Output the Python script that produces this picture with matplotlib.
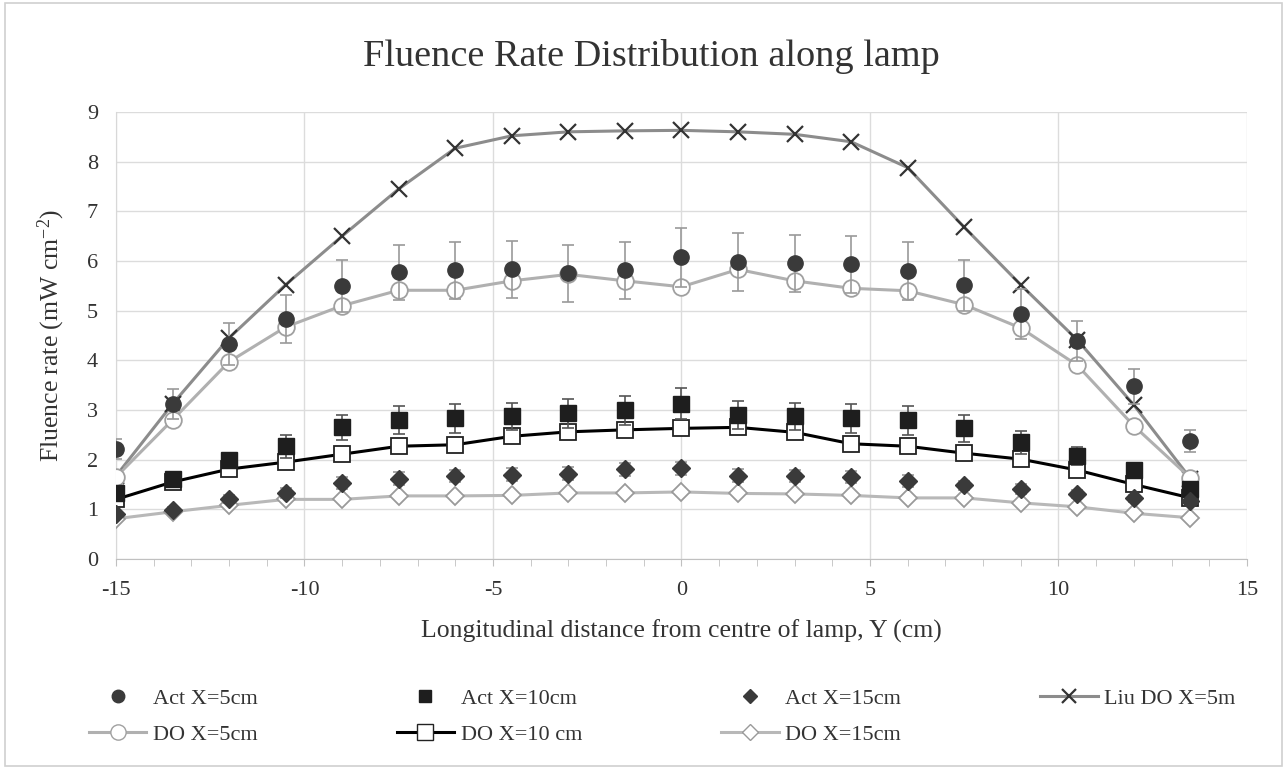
import matplotlib.pyplot as plt
from matplotlib.lines import Line2D
from matplotlib.patches import Rectangle
from matplotlib.ticker import MultipleLocator

plt.rcParams['font.family'] = ['Liberation Serif', 'DejaVu Serif']
plt.rcParams['axes.unicode_minus'] = False
plt.rcParams['mathtext.fontset'] = 'custom'
plt.rcParams['mathtext.rm'] = 'Liberation Serif'
plt.rcParams['mathtext.default'] = 'rm'

# positions along lamp (cm)
y_pos = [-15, -13.5, -12, -10.5, -9, -7.5, -6, -4.5, -3, -1.5,
         0, 1.5, 3, 4.5, 6, 7.5, 9, 10.5, 12, 13.5]

# actinometry measurements and error
act_5 = [2.21, 3.12, 4.33, 4.83, 5.49, 5.77, 5.81, 5.83, 5.75, 5.81,
         6.07, 5.98, 5.95, 5.93, 5.80, 5.51, 4.93, 4.39, 3.48, 2.37]
act_5_err = [0.2, 0.3, 0.42, 0.48, 0.52, 0.56, 0.58, 0.58, 0.57, 0.58,
             0.6, 0.58, 0.58, 0.58, 0.58, 0.51, 0.5, 0.4, 0.35, 0.22]
act_10 = [1.33, 1.61, 2.0, 2.27, 2.65, 2.80, 2.83, 2.87, 2.93, 2.99,
          3.13, 2.90, 2.87, 2.83, 2.79, 2.63, 2.35, 2.07, 1.80, 1.40]
act_10_err = [0.1, 0.1, 0.13, 0.23, 0.25, 0.28, 0.3, 0.28, 0.29, 0.3,
              0.31, 0.28, 0.28, 0.3, 0.29, 0.27, 0.23, 0.18, 0.12, 0.1]
act_15 = [0.90, 0.99, 1.20, 1.33, 1.53, 1.62, 1.67, 1.70, 1.72, 1.81,
          1.83, 1.68, 1.67, 1.65, 1.57, 1.48, 1.41, 1.31, 1.22, 1.17]
act_15_err = [0.05, 0.05, 0.08, 0.1, 0.12, 0.13, 0.13, 0.13, 0.13, 0.13,
              0.13, 0.13, 0.12, 0.12, 0.12, 0.1, 0.1, 0.08, 0.07, 0.05]

# discrete ordinates model
liu_do_5 = [1.67, 3.12, 4.45, 5.52, 6.5, 7.45, 8.27, 8.52, 8.6, 8.62,
            8.63, 8.6, 8.55, 8.4, 7.88, 6.68, 5.52, 4.41, 3.1, 1.62]
do_5 = [1.65, 2.8, 3.97, 4.67, 5.1, 5.41, 5.41, 5.6, 5.73, 5.6,
        5.48, 5.83, 5.6, 5.45, 5.4, 5.12, 4.65, 3.9, 2.68, 1.63]
do_10 = [1.2, 1.55, 1.81, 1.95, 2.11, 2.27, 2.3, 2.47, 2.56, 2.6,
         2.63, 2.65, 2.55, 2.32, 2.27, 2.13, 2.01, 1.79, 1.5, 1.23]
do_15 = [0.81, 0.95, 1.08, 1.2, 1.2, 1.27, 1.27, 1.28, 1.33, 1.33,
         1.35, 1.32, 1.31, 1.28, 1.23, 1.23, 1.13, 1.05, 0.92, 0.83]

fig = plt.figure(figsize=(12.87, 7.69), dpi=100)
ax = fig.add_axes([0.0901, 0.2731, 0.8788, 0.5813])

# chart border
fig.patches.append(Rectangle((0.004, 0.004), 0.992, 0.992, transform=fig.transFigure,
                             fill=False, edgecolor='#d0d0d0', linewidth=1.2))

dark = '#3a3a3a'
err_col = '#9a9a9a'

# model lines
ax.plot(y_pos, liu_do_5, color='#8c8c8c', linewidth=2.2, marker='x', markersize=11,
        markeredgecolor='#333333', markeredgewidth=1.6, zorder=3)
ax.plot(y_pos, do_5, color='#b0b0b0', linewidth=2.2, marker='o', markersize=12,
        markerfacecolor='white', markeredgecolor='#a0a0a0', markeredgewidth=1.3, zorder=3)
ax.plot(y_pos, do_10, color='black', linewidth=2.2, marker='s', markersize=12,
        markerfacecolor='white', markeredgecolor='#222222', markeredgewidth=1.3, zorder=3)
ax.plot(y_pos, do_15, color='#b8b8b8', linewidth=2.2, marker='D', markersize=9,
        markerfacecolor='white', markeredgecolor='#9a9a9a', markeredgewidth=1.3, zorder=3)

# measurements with error bars
ax.errorbar(y_pos, act_5, yerr=act_5_err, fmt='o', color=dark, markersize=11,
            ecolor=err_col, elinewidth=1.2, capsize=4, capthick=1.2, zorder=4)
ax.errorbar(y_pos, act_10, yerr=act_10_err, fmt='s', color='#1e1e1e', markersize=11,
            ecolor='#555555', elinewidth=1.2, capsize=4, capthick=1.2, zorder=4)
ax.errorbar(y_pos, act_15, yerr=act_15_err, fmt='D', color=dark, markersize=9,
            ecolor=err_col, elinewidth=1.2, capsize=4, capthick=1.2, zorder=4)

ax.set_xlim(-15, 15)
ax.set_ylim(0, 9)
ax.xaxis.set_major_locator(MultipleLocator(5))
ax.xaxis.set_minor_locator(MultipleLocator(1))
ax.yaxis.set_major_locator(MultipleLocator(1))
ax.grid(True, which='major', color='#dcdcdc', linewidth=1)
ax.set_axisbelow(True)
for side in ['top', 'right']:
    ax.spines[side].set_visible(False)
ax.spines['left'].set_color('#d8d8d8')
ax.spines['bottom'].set_color('#c0c0c0')
ax.tick_params(axis='both', which='both', length=0, labelsize=16, colors='#333333', pad=13)
ax.tick_params(axis='x', which='both', length=5, color='#c0c0c0', direction='out', pad=11)

ax.set_xlabel('Longitudinal distance from centre of lamp, Y (cm)', fontsize=18.5,
              color='#333333', labelpad=14)
ax.set_ylabel(r'Fluence rate (mW cm$^{-2}$)', fontsize=18.5, color='#333333', labelpad=14)
fig.text(0.506, 0.927, 'Fluence Rate Distribution along lamp', ha='center', va='center',
         fontsize=27.5, color='#333333')

# legend, column-major order so rows read as in the original
handles = [
    Line2D([], [], linestyle='none', marker='o', color=dark, markersize=9),
    Line2D([], [], color='#b0b0b0', linewidth=2.2, marker='o', markersize=11,
           markerfacecolor='white', markeredgecolor='#a0a0a0'),
    Line2D([], [], linestyle='none', marker='s', color='#1e1e1e', markersize=9),
    Line2D([], [], color='black', linewidth=2.2, marker='s', markersize=11,
           markerfacecolor='white', markeredgecolor='#222222'),
    Line2D([], [], linestyle='none', marker='D', color=dark, markersize=7),
    Line2D([], [], color='#b8b8b8', linewidth=2.2, marker='D', markersize=8,
           markerfacecolor='white', markeredgecolor='#9a9a9a'),
    Line2D([], [], color='#8c8c8c', linewidth=2.2, marker='x', markersize=10,
           markeredgecolor='#333333', markeredgewidth=1.6),
]
labels = ['Act X=5cm', 'DO X=5cm', 'Act X=10cm', 'DO X=10 cm',
          'Act X=15cm', 'DO X=15cm', 'Liu DO X=5m']
leg = fig.legend(handles, labels, ncol=4, loc='lower left',
                 bbox_to_anchor=(0.062, 0.02, 0.905, 0.1), mode='expand',
                 frameon=False, fontsize=16, handlelength=2.6, handletextpad=0.3,
                 labelspacing=0.7, borderaxespad=0)
for t in leg.get_texts():
    t.set_color('#333333')

fig.savefig('out.png', dpi=100)
